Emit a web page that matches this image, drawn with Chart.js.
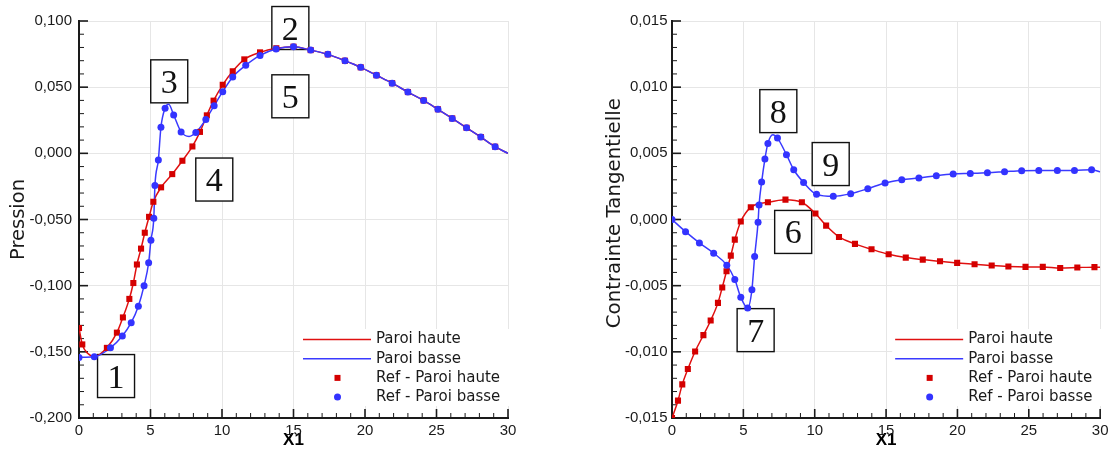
<!DOCTYPE html>
<html lang="fr">
<head>
<meta charset="UTF-8">
<title>Pression et contrainte tangentielle</title>
<script src="https://cdn.jsdelivr.net/npm/chart.js"></script>
<style>
  body { margin: 0; background: #fff; width: 1112px; height: 457px; overflow: hidden; position: relative; }
  .chart-box { position: absolute; top: 0; width: 556px; height: 457px; }
  #boxLeft { left: 0; }
  #boxRight { left: 556px; }
</style>
</head>
<body>
<div class="chart-box" id="boxLeft"><canvas id="pressChart" width="556" height="457"></canvas></div>
<div class="chart-box" id="boxRight"><canvas id="shearChart" width="556" height="457"></canvas></div>
<script>
// ---------- Pression (left) ----------
const presRefHautX = [0, 0.23, 1.95, 2.65, 3.07, 3.52, 3.8, 4.05, 4.34, 4.6, 4.9, 5.2, 5.74, 6.52, 7.23, 7.93, 8.46, 8.94, 9.41, 10.05, 10.75, 11.56, 12.66, 13.8, 15.0, 16.2, 17.4, 18.6, 19.7, 20.8, 21.9, 23.0, 24.1, 25.1, 26.1, 27.1, 28.1, 29.1];
const presRefHautY = [-0.132, -0.1444, -0.147, -0.1355, -0.124, -0.110, -0.098, -0.084, -0.072, -0.060, -0.048, -0.0366, -0.0257, -0.0157, -0.0056, 0.0052, 0.0162, 0.0287, 0.0398, 0.0518, 0.062, 0.071, 0.0763, 0.0794, 0.0806, 0.078, 0.0748, 0.070, 0.065, 0.059, 0.053, 0.0463, 0.040, 0.0333, 0.0264, 0.0193, 0.0123, 0.005];

const presRefBasX = [0, 1.07, 2.2, 3.03, 3.65, 4.15, 4.55, 4.87, 5.03, 5.23, 5.31, 5.55, 5.73, 6.02, 6.62, 7.14, 8.17, 8.87, 9.45, 10.05, 10.75, 11.66, 12.66, 13.78, 15.0, 16.2, 17.4, 18.6, 19.7, 20.8, 21.9, 23.0, 24.1, 25.1, 26.1, 27.1, 28.1, 29.1];
const presRefBasY = [-0.1542, -0.1538, -0.147, -0.138, -0.128, -0.1155, -0.100, -0.0827, -0.0656, -0.049, -0.0244, -0.005, 0.0197, 0.034, 0.029, 0.0162, 0.0157, 0.0256, 0.036, 0.0466, 0.0577, 0.0665, 0.074, 0.0788, 0.0806, 0.078, 0.0748, 0.070, 0.065, 0.059, 0.053, 0.0463, 0.040, 0.0333, 0.0264, 0.0193, 0.0123, 0.005];

const presHautX = [0, 0.23, 0.6, 1.1, 1.95, 2.65, 3.07, 3.52, 3.8, 4.05, 4.34, 4.6, 4.9, 5.2, 5.74, 6.52, 7.23, 7.93, 8.46, 8.94, 9.41, 10.05, 10.75, 11.56, 12.66, 13.8, 15.0, 16.2, 17.4, 18.6, 19.7, 20.8, 21.9, 23.0, 24.1, 25.1, 26.1, 27.1, 28.1, 29.1, 30];
const presHautY = [-0.132, -0.1444, -0.151, -0.1535, -0.147, -0.1355, -0.124, -0.110, -0.098, -0.084, -0.072, -0.060, -0.048, -0.0366, -0.0257, -0.0157, -0.0056, 0.0052, 0.0162, 0.0287, 0.0398, 0.0518, 0.062, 0.071, 0.0763, 0.0794, 0.0806, 0.078, 0.0748, 0.070, 0.065, 0.059, 0.053, 0.0463, 0.040, 0.0333, 0.0264, 0.0193, 0.0123, 0.005, 0.0];

const presBasX = [0, 1.07, 2.2, 3.03, 3.65, 4.15, 4.55, 4.87, 5.03, 5.23, 5.31, 5.55, 5.73, 6.02, 6.27, 6.62, 7.14, 7.7, 8.17, 8.87, 9.45, 10.05, 10.75, 11.66, 12.66, 13.78, 15.0, 16.2, 17.4, 18.6, 19.7, 20.8, 21.9, 23.0, 24.1, 25.1, 26.1, 27.1, 28.1, 29.1, 30];
const presBasY = [-0.1542, -0.1538, -0.147, -0.138, -0.128, -0.1155, -0.100, -0.0827, -0.0656, -0.049, -0.0244, -0.005, 0.0197, 0.034, 0.037, 0.029, 0.0162, 0.0128, 0.0157, 0.0256, 0.036, 0.0466, 0.0577, 0.0665, 0.074, 0.0788, 0.0806, 0.078, 0.0748, 0.070, 0.065, 0.059, 0.053, 0.0463, 0.040, 0.0333, 0.0264, 0.0193, 0.0123, 0.005, 0.0];

const presBoxLabels = ['1', '2', '3', '4', '5'];
const presBoxX = [2.59, 14.78, 6.31, 9.46, 14.78];
const presBoxY = [-0.1683, 0.0947, 0.0544, -0.0198, 0.0431];

// ---------- Contrainte tangentielle (right) ----------
const shearRefHautX = [0, 0.42, 0.72, 1.11, 1.62, 2.2, 2.71, 3.22, 3.52, 3.82, 4.12, 4.4, 4.82, 5.52, 6.72, 7.95, 9.1, 10.05, 10.8, 11.7, 12.82, 13.98, 15.18, 16.38, 17.57, 18.78, 19.98, 21.2, 22.4, 23.57, 24.77, 25.98, 27.2, 28.4, 29.6];
const shearRefHautY = [-0.015, -0.01369, -0.01246, -0.0113, -0.00997, -0.00874, -0.00763, -0.0063, -0.00514, -0.00391, -0.00273, -0.00152, -0.00015, 0.00092, 0.0013, 0.0015, 0.0013, 0.00045, -0.00046, -0.00132, -0.00184, -0.00225, -0.00263, -0.00288, -0.00303, -0.00316, -0.00328, -0.00338, -0.00348, -0.00355, -0.00358, -0.00358, -0.00366, -0.00363, -0.0036];

const shearRefBasX = [0, 0.95, 1.92, 2.92, 3.84, 4.4, 4.82, 5.3, 5.6, 5.79, 6.03, 6.1, 6.28, 6.51, 6.72, 7.39, 8.02, 8.53, 9.22, 10.13, 11.3, 12.52, 13.72, 14.93, 16.1, 17.3, 18.52, 19.7, 20.9, 22.1, 23.3, 24.5, 25.7, 27.0, 28.2, 29.4];
const shearRefBasY = [0, -0.00092, -0.00177, -0.00255, -0.00345, -0.00454, -0.00588, -0.00668, -0.0053, -0.0028, -0.0002, 0.0011, 0.00283, 0.00457, 0.00575, 0.00615, 0.0049, 0.00376, 0.0028, 0.0019, 0.00175, 0.00195, 0.00233, 0.00276, 0.00301, 0.00313, 0.00331, 0.00344, 0.00348, 0.00353, 0.00361, 0.00369, 0.00371, 0.00371, 0.00371, 0.00376];

const shearHautX = [0, 0.42, 0.72, 1.11, 1.62, 2.2, 2.71, 3.22, 3.52, 3.82, 4.12, 4.4, 4.82, 5.52, 6.72, 7.95, 9.1, 10.05, 10.8, 11.7, 12.82, 13.98, 15.18, 16.38, 17.57, 18.78, 19.98, 21.2, 22.4, 23.57, 24.77, 25.98, 27.2, 28.4, 29.6, 30];
const shearHautY = [-0.015, -0.01369, -0.01246, -0.0113, -0.00997, -0.00874, -0.00763, -0.0063, -0.00514, -0.00391, -0.00273, -0.00152, -0.00015, 0.00092, 0.0013, 0.0015, 0.0013, 0.00045, -0.00046, -0.00132, -0.00184, -0.00225, -0.00263, -0.00288, -0.00303, -0.00316, -0.00328, -0.00338, -0.00348, -0.00355, -0.00358, -0.00358, -0.00366, -0.00363, -0.0036, -0.0036];

const shearBasX = [0, 0.95, 1.92, 2.92, 3.84, 4.4, 4.82, 5.3, 5.6, 5.79, 6.03, 6.1, 6.28, 6.51, 6.72, 7.07, 7.39, 8.02, 8.53, 9.22, 10.13, 11.3, 12.52, 13.72, 14.93, 16.1, 17.3, 18.52, 19.7, 20.9, 22.1, 23.3, 24.5, 25.7, 27.0, 28.2, 29.4, 30];
const shearBasY = [0, -0.00092, -0.00177, -0.00255, -0.00345, -0.00454, -0.00588, -0.00668, -0.0053, -0.0028, -0.0002, 0.0011, 0.00283, 0.00457, 0.00575, 0.0064, 0.00615, 0.0049, 0.00376, 0.0028, 0.0019, 0.00175, 0.00195, 0.00233, 0.00276, 0.00301, 0.00313, 0.00331, 0.00344, 0.00348, 0.00353, 0.00361, 0.00369, 0.00371, 0.00371, 0.00371, 0.00376, 0.0036];

const shearBoxLabels = ['6', '7', '8', '9'];
const shearBoxX = [8.49, 5.86, 7.45, 11.12];
const shearBoxY = [-0.00094, -0.00836, 0.00819, 0.00419];

// ---------- styling ----------
const RED = '#d40000';
const BLUE = '#3333ff';
const LINE_RED = '#e01010';
const LINE_BLUE = '#3a3aff';
const INK = '#1a1a1a';

function pts(xs, ys) {
  return xs.map((x, i) => ({ x: x, y: ys[i] }));
}

function frNum(v, d) {
  if (Math.abs(v) < 1e-12) v = 0;
  return v.toFixed(d).replace('.', ',');
}

// tick marks drawn inside the plot, major + minor
function innerTicks(xMinor, xEvery, yMinor, yEvery) {
  return {
    id: 'innerTicks',
    beforeDatasetsDraw(chart) {
      const { ctx, chartArea: a, scales: { x, y } } = chart;
      ctx.save();
      ctx.strokeStyle = INK;
      const nx = Math.round((x.max - x.min) / xMinor);
      for (let i = 0; i <= nx; i++) {
        const px = x.getPixelForValue(x.min + i * xMinor);
        const major = i % xEvery === 0;
        ctx.lineWidth = major ? 1.6 : 1;
        ctx.beginPath();
        ctx.moveTo(px, a.bottom);
        ctx.lineTo(px, a.bottom - (major ? 9 : 5));
        ctx.stroke();
      }
      const ny = Math.round((y.max - y.min) / yMinor);
      for (let i = 0; i <= ny; i++) {
        const py = y.getPixelForValue(y.min + i * yMinor);
        const major = i % yEvery === 0;
        ctx.lineWidth = major ? 1.6 : 1;
        ctx.beginPath();
        ctx.moveTo(a.left, py);
        ctx.lineTo(a.left + (major ? 9 : 5), py);
        ctx.stroke();
      }
      ctx.restore();
    }
  };
}

// numbered boxes placed in data coordinates
function numberBoxes(labels, xs, ys) {
  return {
    id: 'numberBoxes',
    beforeDatasetsDraw(chart) {
      const { ctx, scales: { x, y } } = chart;
      ctx.save();
      labels.forEach((lab, i) => {
        const cx = x.getPixelForValue(xs[i]);
        const cy = y.getPixelForValue(ys[i]);
        ctx.fillStyle = '#fff';
        ctx.fillRect(cx - 18.5, cy - 21.5, 37, 43);
        ctx.strokeStyle = '#111';
        ctx.lineWidth = 1.4;
        ctx.strokeRect(cx - 18.5, cy - 21.5, 37, 43);
        ctx.fillStyle = '#111';
        ctx.font = '34px "Liberation Serif"';
        ctx.textAlign = 'center';
        ctx.textBaseline = 'alphabetic';
        ctx.fillText(lab, cx, cy + 11.5);
      });
      ctx.restore();
    }
  };
}

// legend in the lower right corner of the plot
const legendEntries = [
  { text: 'Paroi haute', kind: 'line', color: LINE_RED },
  { text: 'Paroi basse', kind: 'line', color: LINE_BLUE },
  { text: 'Ref - Paroi haute', kind: 'rect', color: RED },
  { text: 'Ref - Paroi basse', kind: 'circle', color: BLUE }
];

const cornerLegend = {
  id: 'cornerLegend',
  afterDatasetsDraw(chart) {
    const { ctx, chartArea: a } = chart;
    ctx.save();
    ctx.fillStyle = '#fff';
    ctx.fillRect(a.right - 208, a.bottom - 89, 210, 77);
    const lineStart = a.right - 205, lineEnd = a.right - 137;
    const markX = a.right - 170.5, textX = a.right - 132;
    legendEntries.forEach((e, i) => {
      const ry = a.bottom - 78.5 + i * 19.2;
      if (e.kind === 'line') {
        ctx.strokeStyle = e.color;
        ctx.lineWidth = 1.5;
        ctx.beginPath();
        ctx.moveTo(lineStart, ry);
        ctx.lineTo(lineEnd, ry);
        ctx.stroke();
      } else if (e.kind === 'rect') {
        ctx.fillStyle = e.color;
        ctx.fillRect(markX - 3, ry - 3, 6, 6);
      } else {
        ctx.fillStyle = e.color;
        ctx.beginPath();
        ctx.arc(markX, ry, 3.5, 0, Math.PI * 2);
        ctx.fill();
      }
      ctx.fillStyle = INK;
      ctx.font = '15px "DejaVu Sans"';
      ctx.textAlign = 'left';
      ctx.textBaseline = 'middle';
      ctx.fillText(e.text, textX, ry);
    });
    ctx.restore();
  }
};

function makeDatasets(refBas, refHaut, lineBas, lineHaut) {
  return [
    { label: 'Ref - Paroi basse', data: refBas, showLine: false, pointStyle: 'circle', pointRadius: 3.5,
      backgroundColor: BLUE, borderColor: BLUE, borderWidth: 0 },
    { label: 'Ref - Paroi haute', data: refHaut, showLine: false, pointStyle: 'rect', pointRadius: 4.3,
      backgroundColor: RED, borderColor: RED, borderWidth: 0 },
    { label: 'Paroi basse', data: lineBas, showLine: true, pointRadius: 0, borderColor: LINE_BLUE,
      borderWidth: 1.5, cubicInterpolationMode: 'monotone', fill: false },
    { label: 'Paroi haute', data: lineHaut, showLine: true, pointRadius: 0, borderColor: LINE_RED,
      borderWidth: 1.5, cubicInterpolationMode: 'monotone', fill: false }
  ];
}

function buildChart(id, o) {
  new Chart(document.getElementById(id), {
    type: 'scatter',
    data: { datasets: o.datasets },
    options: {
      responsive: false,
      animation: false,
      layout: { padding: { left: 0, right: o.padRight, top: 21, bottom: 0 } },
      plugins: { legend: { display: false }, tooltip: { enabled: false } },
      scales: {
        x: {
          type: 'linear', min: 0, max: 30,
          afterFit: s => { s.height = 39; },
          ticks: { stepSize: 5, padding: 3.5, color: INK, font: { family: 'Liberation Sans', size: 15 },
                   callback: v => String(v) },
          grid: { color: '#e6e6e6', lineWidth: 1, drawTicks: false },
          border: { display: true, color: INK, width: 2 },
          title: { display: true, text: 'X1', color: '#000', padding: { top: 0, bottom: 6 },
                   font: { family: 'Liberation Sans', size: 17, weight: 'bold' } }
        },
        y: {
          type: 'linear', min: o.yMin, max: o.yMax,
          afterFit: s => { s.width = o.yWidth; },
          ticks: { stepSize: o.yStep, padding: o.yPad, color: INK, font: { family: 'Liberation Sans', size: 15 },
                   callback: v => frNum(v, 3) },
          grid: { color: '#e6e6e6', lineWidth: 1, drawTicks: false },
          border: { display: true, color: INK, width: 2 },
          title: { display: true, text: o.yTitle, color: INK, padding: { top: o.titlePad, bottom: 0 },
                   font: { family: 'DejaVu Sans', size: o.titleSize } }
        }
      }
    },
    plugins: [innerTicks(1, 5, o.yMinor, 5), numberBoxes(o.boxLabels, o.boxX, o.boxY), cornerLegend]
  });
}

buildChart('pressChart', {
  datasets: makeDatasets(pts(presRefBasX, presRefBasY), pts(presRefHautX, presRefHautY),
                         pts(presBasX, presBasY), pts(presHautX, presHautY)),
  padRight: 48, yMin: -0.2, yMax: 0.1, yStep: 0.05, yMinor: 0.01, yWidth: 79, yPad: 7,
  yTitle: 'Pression', titlePad: 7.5, titleSize: 19.5,
  boxLabels: presBoxLabels, boxX: presBoxX, boxY: presBoxY
});

buildChart('shearChart', {
  datasets: makeDatasets(pts(shearRefBasX, shearRefBasY), pts(shearRefHautX, shearRefHautY),
                         pts(shearBasX, shearBasY), pts(shearHautX, shearHautY)),
  padRight: 9, yMin: -0.015, yMax: 0.015, yStep: 0.005, yMinor: 0.001, yWidth: 116, yPad: 4.5,
  yTitle: '  Contrainte Tangentielle', titlePad: 46.5, titleSize: 19.8,
  boxLabels: shearBoxLabels, boxX: shearBoxX, boxY: shearBoxY
});
</script>
</body>
</html>
